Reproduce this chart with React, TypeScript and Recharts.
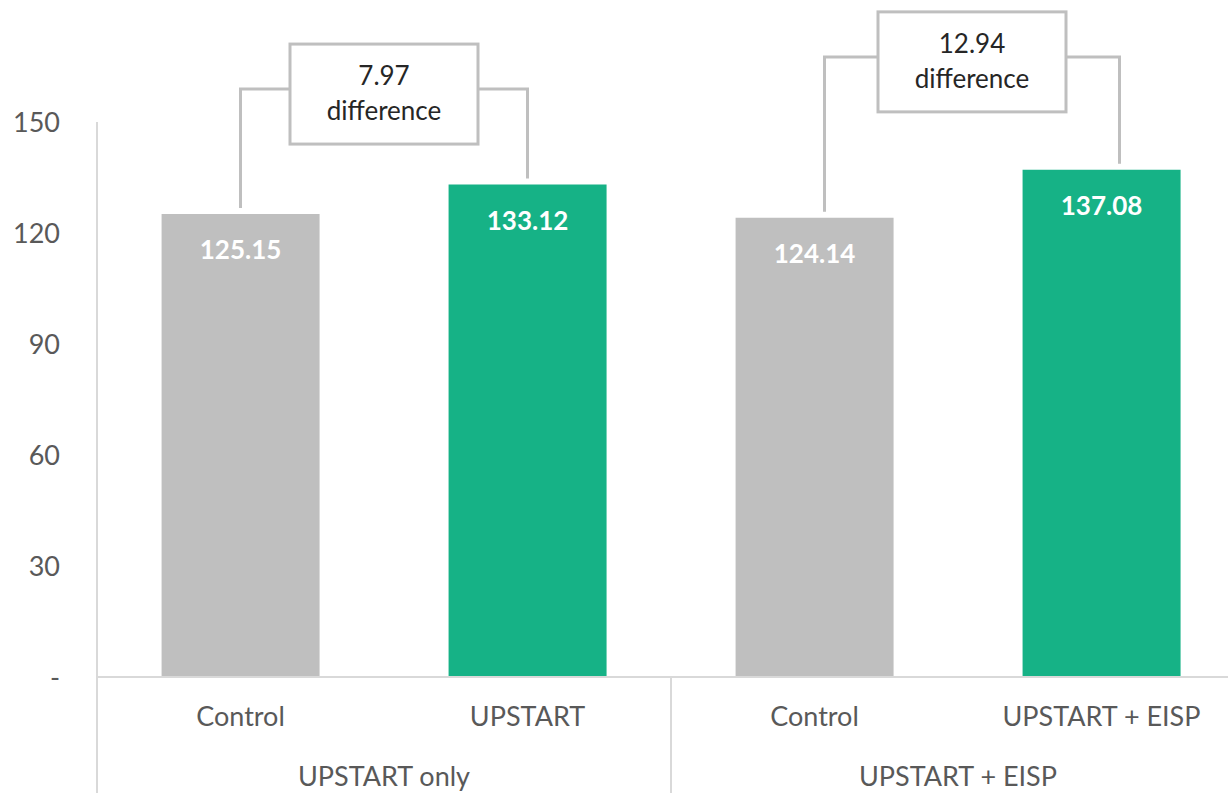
import React from "react";
import { BarChart, Bar, XAxis, YAxis, Cell, LabelList, ReferenceLine } from "recharts";

// chart data
const categories = ["Control", "UPSTART", "Control", "UPSTART + EISP"];
const groups = ["UPSTART only", "UPSTART only", "UPSTART + EISP", "UPSTART + EISP"];
const values = [125.15, 133.12, 124.14, 137.08];
const yTicks = [0, 30, 60, 90, 120, 150];
// compared bars: [control, treatment]
const pairs = [
  [0, 1],
  [2, 3],
];

const GRAY = "#bfbfbf";
const GREEN = "#16b286";
const AXIS = "#d9d9d9";
const TEXT = "#595959";
const FONT = "Lato, 'Open Sans', sans-serif";
const barColors = [GRAY, GREEN, GRAY, GREEN];

// bracket look
const bracketLevels = [158.9, 167.6]; // height of the bracket bar, in value units
const bracketShift = [
  [0, 0],
  [10, 18],
]; // the second bracket sits a bit right of the bar centres in the original
const BRACKET_GAP = 6;
const BOX_W = 188;
const BOX_H = 100;

const CAT_AXIS_H = 70;
const GROUP_AXIS_H = 46;

const data = categories.map((c, i) => ({
  key: groups[i] + ":" + c,
  name: c,
  group: groups[i],
  value: values[i],
}));

const CatTick = (props: any) => {
  const { x, y, payload } = props;
  const row = data.find((d) => d.key === payload.value);
  return (
    <text x={x} y={y} dy={49} textAnchor="middle" fontFamily={FONT} fontSize={27} fill={TEXT}>
      {row ? row.name : ""}
    </text>
  );
};

const GroupTick = (props: any) => {
  const { x, y, payload } = props;
  const half = payload.offset || 0;
  return (
    <g>
      <line x1={x - half} x2={x - half} y1={y - CAT_AXIS_H} y2={y + GROUP_AXIS_H} stroke={AXIS} strokeWidth={2} />
      <text x={x} y={y} dy={39} textAnchor="middle" fontFamily={FONT} fontSize={27} fill={TEXT}>
        {payload.value}
      </text>
    </g>
  );
};

const makeBracket = (a: number, b: number, level: number, shift: number[]) => (props: any) => {
  const { y1, y2 } = props;
  const x1 = props.x1 + shift[0];
  const x2 = props.x2 + shift[1];
  const va = values[a];
  const vb = values[b];
  const k = (y1 - y2) / (vb - va);
  const ly = y2 - (level - vb) * k;
  const cx = (x1 + x2) / 2;
  const cy = ly + 5;
  const diff = (vb - va).toFixed(2);
  return (
    <g>
      <path
        d={`M${x1},${y1 - BRACKET_GAP} V${ly} H${x2} V${y2 - BRACKET_GAP}`}
        fill="none"
        stroke={GRAY}
        strokeWidth={3}
      />
      <rect x={cx - BOX_W / 2} y={cy - BOX_H / 2} width={BOX_W} height={BOX_H} fill="#fff" stroke={GRAY} strokeWidth={3} />
      <text x={cx} y={cy} textAnchor="middle" fontFamily={FONT} fontSize={26} fill="#262626">
        <tspan x={cx} dy={-9}>{diff}</tspan>
        <tspan x={cx} dy={35}>difference</tspan>
      </text>
    </g>
  );
};

export default function App() {
  return (
    <div style={{ position: "absolute", left: 0, top: 0, width: 1228, height: 793, overflow: "hidden", background: "#fff" }}>
      <BarChart
        width={1245}
        height={793}
        data={data}
        margin={{ top: 122, right: 0, left: 0, bottom: 0 }}
        barCategoryGap="22.5%"
      >
        <YAxis
          width={97}
          domain={[0, 150]}
          ticks={yTicks}
          interval={0}
          tickFormatter={(v: number) => (v === 0 ? "-" : String(v))}
          axisLine={{ stroke: AXIS, strokeWidth: 2 }}
          tickLine={false}
          tickSize={0}
          tickMargin={37}
          tick={{ fontFamily: FONT, fontSize: 27, fill: TEXT }}
        />
        <XAxis
          dataKey="key"
          height={CAT_AXIS_H}
          interval={0}
          axisLine={{ stroke: AXIS, strokeWidth: 2 }}
          tickLine={false}
          tickSize={0}
          tickMargin={0}
          tick={<CatTick />}
        />
        <XAxis
          xAxisId="group"
          dataKey="group"
          allowDuplicatedCategory={false}
          height={GROUP_AXIS_H}
          interval={0}
          axisLine={false}
          tickLine={false}
          tickSize={0}
          tickMargin={0}
          tick={<GroupTick />}
        />
        <Bar dataKey="value" isAnimationActive={false}>
          {data.map((d, i) => (
            <Cell key={i} fill={barColors[i]} />
          ))}
          <LabelList
            dataKey="value"
            position="insideTop"
            offset={27}
            fill="#fff"
            fontFamily={FONT}
            fontSize={26}
            fontWeight="bold"
            formatter={(v: any) => Number(v).toFixed(2)}
          />
        </Bar>
        {pairs.map(([a, b], i) => (
          <ReferenceLine
            key={i}
            ifOverflow="visible"
            segment={[
              { x: data[a].key, y: values[a] },
              { x: data[b].key, y: values[b] },
            ]}
            shape={makeBracket(a, b, bracketLevels[i], bracketShift[i])}
          />
        ))}
      </BarChart>
    </div>
  );
}
